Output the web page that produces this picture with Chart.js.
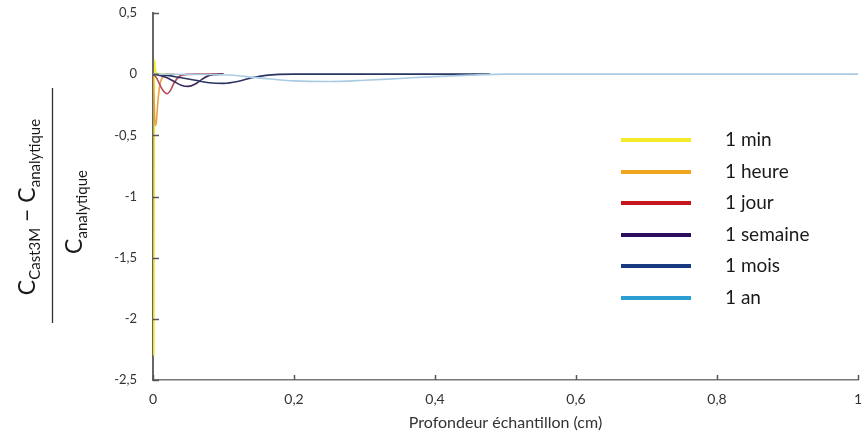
<!DOCTYPE html>
<html><head><meta charset="utf-8">
<script src="https://cdn.jsdelivr.net/npm/chart.js@4.4.1/dist/chart.umd.min.js"></script>
<style>html,body{margin:0;padding:0;background:#fff}#wrap{width:866px;height:441px;position:relative}</style>
</head><body><div id="wrap"><canvas id="c" width="866" height="441"></canvas></div>
<script>
const seriesLabels = ["1 min", "1 heure", "1 jour", "1 semaine", "1 mois", "1 an"];
const minX = [0.0012, 0.0016, 0.002, 0.003, 0.005, 0.01, 0.02];
const minY = [-2.3, -1.0, 0.12, 0.05, 0.01, 0, 0];
const heureX = [0, 0.0015, 0.003, 0.0045, 0.007, 0.01, 0.014, 0.02, 0.03];
const heureY = [0, -0.2, -0.42, -0.4, -0.22, -0.08, -0.02, 0, 0];
const jourX = [0, 0.005, 0.01, 0.015, 0.02, 0.025, 0.03, 0.04, 0.06, 0.1];
const jourY = [0, -0.03, -0.09, -0.14, -0.16, -0.13, -0.07, -0.01, 0, 0];
const semaineX = [0, 0.01, 0.02, 0.03, 0.04, 0.05, 0.06, 0.07, 0.08, 0.1];
const semaineY = [0, -0.01, -0.03, -0.06, -0.09, -0.1, -0.08, -0.04, -0.01, 0];
const moisX = [0, 0.02, 0.04, 0.06, 0.08, 0.1, 0.12, 0.14, 0.16, 0.2, 0.478];
const moisY = [0, -0.01, -0.03, -0.05, -0.07, -0.075, -0.06, -0.03, -0.01, 0, 0];
const anX = [0, 0.1, 0.15, 0.2, 0.25, 0.3, 0.35, 0.4, 0.45, 0.5, 1];
const anY = [0, -0.005, -0.03, -0.055, -0.06, -0.05, -0.035, -0.02, -0.008, 0, 0];
const xTicks = [0, 0.2, 0.4, 0.6, 0.8, 1];
const yTicks = [0.5, 0, -0.5, -1, -1.5, -2, -2.5];
const colors = ["#f3ea2c", "#f0a61c", "#c4161c", "#2b0f5e", "#1a3a80", "#2b9ed3"];
const lineColors = ["#f3ea2c", "#e8a040", "#b8485a", "#3a2a60", "#2a3560", "#a9cce2"];

const xsAll = [minX, heureX, jourX, semaineX, moisX, anX];
const ysAll = [minY, heureY, jourY, semaineY, moisY, anY];
const fmt = v => String(v).replace('.', ',');

const datasets = seriesLabels.map((l, i) => ({
  label: l,
  data: xsAll[i].map((x, j) => ({x: x, y: ysAll[i][j]})),
  borderColor: lineColors[i],
  borderWidth: 1.6,
  pointRadius: 0,
  cubicInterpolationMode: 'monotone',
  fill: false
}));
datasets.reverse();

const overlay = {
  id: 'overlay',
  afterDraw(chart) {
    const ctx = chart.ctx;
    const xs = chart.scales.x, ys = chart.scales.y;
    ctx.save();
    ctx.strokeStyle = '#555';
    ctx.lineWidth = 1.5;
    yTicks.forEach(v => {
      const p = Math.round(ys.getPixelForValue(v)) + 0.5;
      ctx.beginPath(); ctx.moveTo(xs.left, p); ctx.lineTo(xs.left + 6, p); ctx.stroke();
    });
    xTicks.forEach(v => {
      const p = Math.round(xs.getPixelForValue(v)) + 0.5;
      ctx.beginPath(); ctx.moveTo(p, ys.bottom); ctx.lineTo(p, ys.bottom - 5); ctx.stroke();
    });
    // legend
    const lx = 621, tx = 725;
    const rows = [140, 172, 203, 235, 266, 298];
    ctx.font = '19px Lato';
    ctx.textBaseline = 'middle';
    ctx.textAlign = 'left';
    seriesLabels.forEach((l, i) => {
      ctx.strokeStyle = colors[i];
      ctx.lineWidth = 4;
      ctx.beginPath(); ctx.moveTo(lx, rows[i]); ctx.lineTo(lx + 70, rows[i]); ctx.stroke();
      ctx.fillStyle = '#1a1a1a';
      ctx.fillText(l, tx, rows[i]);
    });
    // y-axis title as fraction
    ctx.fillStyle = '#1a1a1a';
    ctx.strokeStyle = '#333';
    ctx.lineWidth = 1.3;
    ctx.beginPath(); ctx.moveTo(52.5, 88); ctx.lineTo(52.5, 323); ctx.stroke();
    function drawRich(parts, cx, cy) {
      ctx.save();
      ctx.translate(cx, cy);
      ctx.rotate(-Math.PI / 2);
      ctx.textBaseline = 'alphabetic';
      ctx.textAlign = 'left';
      let w = 0;
      parts.forEach(p => { ctx.font = p[1] + 'px Lato'; w += ctx.measureText(p[0]).width; });
      let x = -w / 2;
      parts.forEach(p => {
        ctx.font = p[1] + 'px Lato';
        ctx.fillText(p[0], x, p[2]);
        x += ctx.measureText(p[0]).width;
      });
      ctx.restore();
    }
    drawRich([["C", 23, 0], ["Cast3M", 15, 5], [" \u2212 C", 23, 0], ["analytique", 15, 5]], 35, 207);
    drawRich([["C", 23, 0], ["analytique", 15, 5]], 82, 212);
    ctx.restore();
  }
};

new Chart(document.getElementById('c'), {
  type: 'line',
  data: { datasets: datasets },
  options: {
    responsive: false,
    animation: false,
    layout: { padding: { top: 13, right: 8, left: 0, bottom: 0 } },
    plugins: { legend: { display: false }, tooltip: { enabled: false } },
    scales: {
      x: {
        type: 'linear', min: 0, max: 1,
        afterBuildTicks: s => { s.ticks = xTicks.map(v => ({value: v})); },
        afterFit: s => { s.height = 61; s.paddingLeft = 0; s.paddingRight = 0; },
        grid: { display: false, drawTicks: false },
        border: { display: true, color: '#777', width: 1.5 },
        ticks: { padding: 11, color: '#333', font: { family: 'Lato', size: 14 }, callback: v => fmt(v), maxRotation: 0 },
        title: { display: true, text: 'Profondeur \u00e9chantillon (cm)', color: '#333', font: { family: 'Lato', size: 16 }, padding: { top: 2, bottom: 9 } }
      },
      y: {
        type: 'linear', min: -2.5, max: 0.5,
        afterBuildTicks: s => { s.ticks = yTicks.map(v => ({value: v})); },
        afterFit: s => { s.width = 153; s.paddingTop = 0; s.paddingBottom = 0; },
        grid: { display: false, drawTicks: false },
        border: { display: true, color: '#666', width: 2 },
        ticks: { padding: 16, color: '#333', font: { family: 'Lato', size: 13 }, callback: v => fmt(v) }
      }
    }
  },
  plugins: [overlay]
});
</script></body></html>
